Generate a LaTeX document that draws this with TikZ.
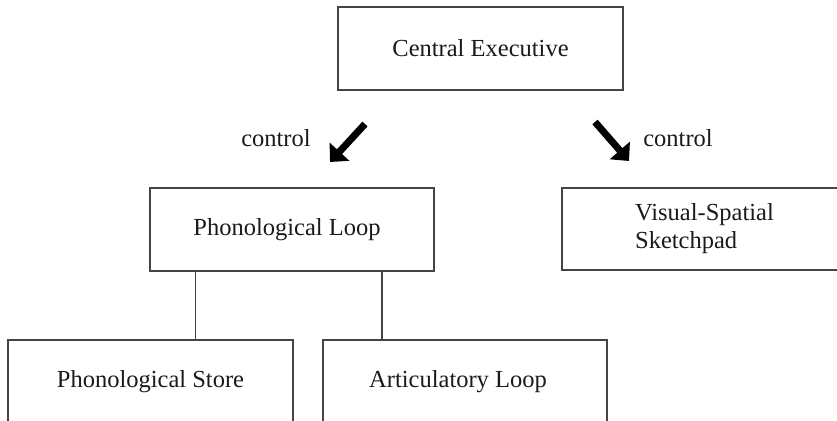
\documentclass[tikz,border=0pt]{standalone}
\usepackage{fontspec}
\setmainfont{Liberation Serif}
\usetikzlibrary{arrows.meta,calc}
\definecolor{boxline}{HTML}{444444}
\definecolor{ink}{HTML}{1A1A1A}
\begin{document}
\begin{tikzpicture}[x=1pt,y=-1pt,
  every node/.style={font=\fontsize{24.5}{28}\selectfont, text=ink},
  box/.style={draw=boxline, line width=1.5pt, rectangle, inner sep=0pt, align=left},
  link/.style={draw=boxline, line width=1.5pt},
  bigarrow/.style={line width=7pt, -{Triangle[length=14pt,width=26pt]}, black},
  lbl/.style={inner sep=0pt}]
\useasboundingbox (0,0) rectangle (837,420);
\clip (0,0) rectangle (837,420);
\node[box, minimum width=285pt, minimum height=83pt] (ce) at (480.5,48.5) {Central Executive};
\node[box, minimum width=284pt, minimum height=83pt] (pl) at (292,229.5) {Phonological Loop\hspace*{10pt}};
\node[box, minimum width=285pt, minimum height=82pt] (vs) at (704.5,229) {Visual-Spatial\\Sketchpad};
\node[box, minimum width=285pt, minimum height=83pt] (ps) at (150.5,381.5) {Phonological Store};
\node[box, minimum width=284pt, minimum height=83pt] (al) at (465,381.5) {Articulatory Loop\hspace*{14pt}};
\draw[link] ([xshift=46pt]pl.south west) -- ([xshift=46pt]pl.south west |- ps.north);
\draw[link] ([xshift=-53pt]pl.south east) -- ([xshift=-53pt]pl.south east |- al.north);
\coordinate (l1) at (365,124);
\coordinate (l2) at (330,162);
\coordinate (r1) at (595,122);
\coordinate (r2) at (629,161);
\draw[bigarrow] (l1) -- (l2);
\draw[bigarrow] (r1) -- (r2);
\node[lbl] (cl) at (276,138) {control};
\node[lbl] (cr) at (678,138) {control};
\end{tikzpicture}
\end{document}
